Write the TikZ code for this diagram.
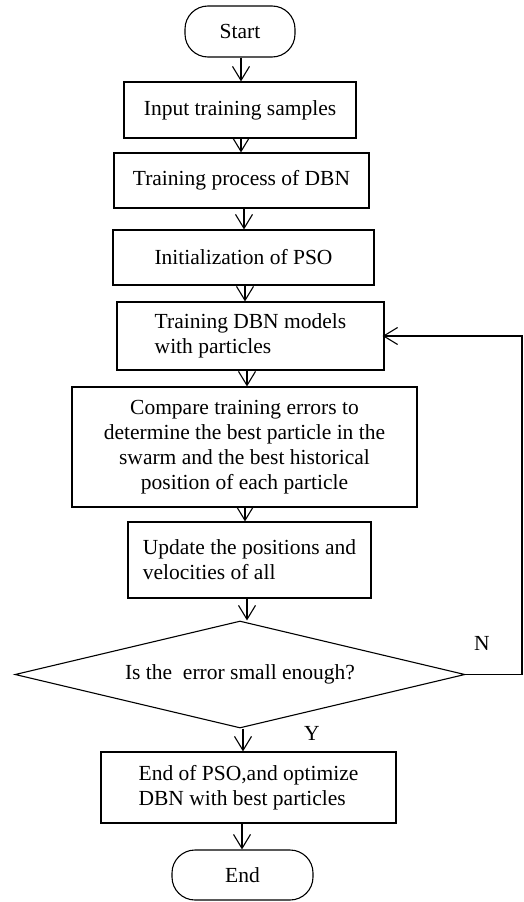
\documentclass[tikz,border=0pt]{standalone}
\usepackage{fontspec}
\setmainfont{Liberation Serif}
\usetikzlibrary{arrows.meta,shapes.geometric}
\begin{document}
\begin{tikzpicture}[x=1pt,y=-1pt,
  every node/.style={font=\fontsize{21.5}{25}\selectfont},
  box/.style={draw,line width=1.1pt,inner sep=0pt},
  term/.style={draw,line width=1.1pt,rounded corners=23pt,inner sep=0pt},
  arr/.style={line width=1.1pt,-{Straight Barb[length=14pt,width=17pt,line width=1.1pt]}},
  lbl/.style={inner sep=0pt}]
\useasboundingbox (0,0) rectangle (523,902);
\node[term,minimum width=110pt,minimum height=51pt] (start) at (240,31.5) {Start};
\node[box,minimum width=232pt,minimum height=56pt] (input) at (240,110) {Input training samples};
\node[box,minimum width=255pt,minimum height=55pt] (trproc) at (241.5,180.5) {Training process of DBN};
\node[box,minimum width=261pt,minimum height=55pt] (init) at (243.5,257.5) {Initialization of PSO};
\node[box,minimum width=267pt,minimum height=68pt,align=left] (tdbn) at (250.5,336) {Training DBN models\\with particles};
\node[box,minimum width=345pt,minimum height=120pt,align=center] (cmp) at (244.5,447) {Compare training errors to\\determine the best particle in the\\swarm and the best historical\\position of each particle};
\node[box,minimum width=243pt,minimum height=76pt,align=left] (upd) at (249.5,560) {Update the positions and\\velocities of all};
\node[draw,line width=1.1pt,shape=diamond,aspect=4.2,minimum width=450pt,minimum height=107pt,inner sep=0pt] (dec) at (240,674.5) {Is the~ error small enough?};
\node[box,minimum width=295pt,minimum height=71pt,align=left] (endpso) at (248.5,787.5) {End of PSO,and optimize\\DBN with best particles};
\node[term,minimum width=141pt,minimum height=50pt] (end) at (242.5,875) {End};
\node[lbl] (nl) at (482,643) {N};
\node[lbl] (yl) at (312,733) {Y};
\coordinate (x241) at (241,0);
\coordinate (x244) at (244,0);
\coordinate (x245) at (245,0);
\coordinate (x247) at (247,0);
\coordinate (x243) at (243,0);
\coordinate (x242) at (242,0);
\coordinate (rx) at (522,0);
\draw[arr] (start.south -| x241) -- (input.north -| x241);
\draw[arr] (input.south -| x241) -- (trproc.north -| x241);
\draw[arr] (trproc.south -| x244) -- (init.north -| x244);
\draw[arr] (init.south -| x245) -- (tdbn.north -| x245);
\draw[arr] (tdbn.south -| x247) -- (cmp.north -| x247);
\draw[arr] (cmp.south -| x245) -- (upd.north -| x245);
\draw[arr] (upd.south -| x247) -- (dec.north -| x247);
\draw[arr] (dec.south -| x243) -- (endpso.north -| x243);
\draw[arr] (endpso.south -| x242) -- (end.north -| x242);
\draw[arr,shorten >=-2pt] (dec.east) -- (dec.east -| rx) -- (tdbn.east -| rx) -- (tdbn.east);
\end{tikzpicture}
\end{document}
